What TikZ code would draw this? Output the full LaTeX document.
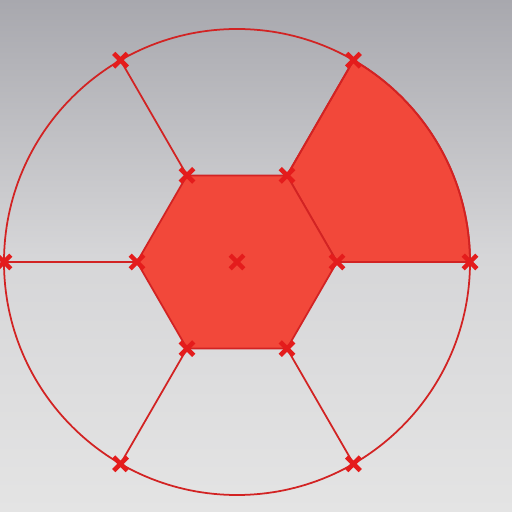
\documentclass[tikz,border=0pt]{standalone}
\usetikzlibrary{shapes.misc}
\definecolor{screentop}{RGB}{168,168,174}
\definecolor{screenmid}{RGB}{214,214,216}
\definecolor{screenbot}{RGB}{228,228,228}
\definecolor{penred}{RGB}{210,35,35}
\definecolor{markred}{RGB}{228,28,28}
\definecolor{fillred}{RGB}{242,72,58}
\tikzset{
  edge/.style={draw=penred, line width=0.5pt},
  region/.style={fill=fillred, draw=penred, line width=0.5pt},
  xmark/.style={cross out, draw=markred, line width=1.3pt, minimum size=0.09cm, inner sep=0pt}
}
\begin{document}
\begin{tikzpicture}
\shade[top color=screentop, bottom color=screenbot, middle color=screenmid] (-2.37,-2.50) rectangle (2.75,2.62);
\useasboundingbox (-2.37,-2.50) rectangle (2.75,2.62);

\coordinate (o) at (0,0);
\coordinate (h0) at (0:1.00);
\coordinate (h1) at (60:1.00);
\coordinate (h2) at (120:1.00);
\coordinate (h3) at (180:1.00);
\coordinate (h4) at (240:1.00);
\coordinate (h5) at (300:1.00);
\coordinate (c0) at (0:2.33);
\coordinate (c1) at (60:2.33);
\coordinate (c2) at (120:2.33);
\coordinate (c3) at (180:2.33);
\coordinate (c4) at (240:2.33);
\coordinate (c5) at (300:2.33);

% shaded pieces
\draw[region] (h0) -- (c0) arc (0:60:2.33) -- (h1) -- cycle;
\draw[region] (h0) -- (h1) -- (h2) -- (h3) -- (h4) -- (h5) -- cycle;

\draw[edge] (o) circle (2.33);
\draw[edge] (h0) -- (c0);
\draw[edge] (h1) -- (c1);
\draw[edge] (h2) -- (c2);
\draw[edge] (h3) -- (c3);
\draw[edge] (h4) -- (c4);
\draw[edge] (h5) -- (c5);

% points
\node[xmark] (mo) at (o) {};
\node[xmark] (m0) at (h0) {};
\node[xmark] (m1) at (h1) {};
\node[xmark] (m2) at (h2) {};
\node[xmark] (m3) at (h3) {};
\node[xmark] (m4) at (h4) {};
\node[xmark] (m5) at (h5) {};
\node[xmark] (n0) at (c0) {};
\node[xmark] (n1) at (c1) {};
\node[xmark] (n2) at (c2) {};
\node[xmark] (n3) at (c3) {};
\node[xmark] (n4) at (c4) {};
\node[xmark] (n5) at (c5) {};
\end{tikzpicture}
\end{document}
